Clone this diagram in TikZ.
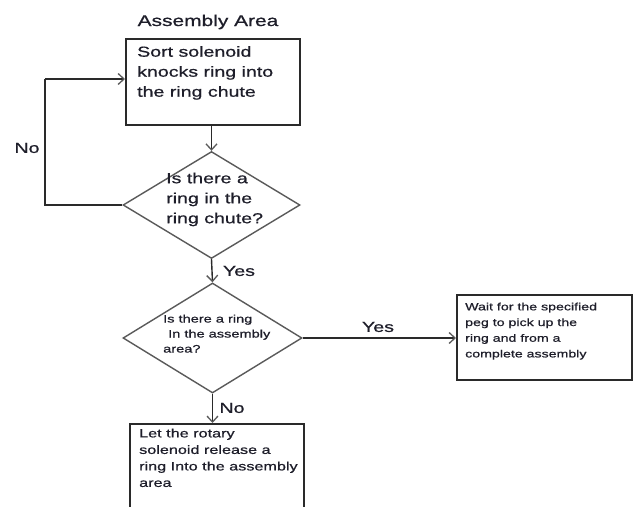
\documentclass[tikz,border=0pt]{standalone}
\usepackage{fontspec}
\setmainfont{Liberation Sans}[FakeStretch=1.35,FakeBold=0.7]
\usetikzlibrary{shapes.geometric,arrows.meta}
\definecolor{ink}{HTML}{1E1E2A}
\definecolor{edge}{HTML}{2A2A2A}
\definecolor{dedge}{HTML}{5A5A5A}
\tikzset{
  stepbox/.style={draw=edge, line width=2pt, rectangle, inner sep=0pt},
  decision/.style={draw=dedge, line width=1.4pt, diamond, inner sep=0pt},
  boxtext/.style={anchor=north west, inner sep=0pt, align=left, text=ink},
  lbl/.style={inner sep=0pt, text=ink, font=\fontsize{14.5}{16}\selectfont},
  flow/.style={draw=edge, line width=1.4pt,
    -{Straight Barb[length=6pt,width=11pt,line width=1.3pt,color=dedge]}},
  plain/.style={draw=edge, line width=1.4pt}
}
\begin{document}
\begin{tikzpicture}[x=1pt,y=-1pt]
  \useasboundingbox (0,0) rectangle (634,506);
  \clip (0,0) rectangle (634,506);
  \fill[white] (0,0) rectangle (634,506);

  % heading
  \node[lbl, font=\fontsize{15.5}{17}\selectfont] (title) at (208,22) {Assembly Area};

  % process boxes
  \node[stepbox, minimum width=174pt, minimum height=86pt] (box1) at (213,82) {};
  \node[boxtext, font=\fontsize{14.5}{20}\selectfont] (t1) at (137,46)
    {Sort solenoid\\knocks ring into\\the ring chute};

  \node[stepbox, minimum width=175pt, minimum height=85pt] (box3) at (544.5,337.5) {};
  \node[boxtext, font=\fontsize{10.5}{15.7}\selectfont] (t3) at (465,302.5)
    {Wait for the specified\\peg to pick up the\\ring and from a\\complete assembly};

  \node[stepbox, minimum width=174pt, minimum height=120pt] (box2) at (217,484) {};
  \node[boxtext, font=\fontsize{12}{16.5}\selectfont] (t2) at (139,428.5)
    {Let the rotary\\solenoid release a\\ring Into the assembly\\area};

  % decisions
  \node[decision, minimum width=177pt, minimum height=107pt] (d1) at (211.5,205) {};
  \node[boxtext, font=\fontsize{14.5}{20}\selectfont] (td1) at (166,172.5)
    {Is there a\\ring in the\\ring chute?};

  \node[decision, minimum width=179pt, minimum height=110pt] (d2) at (212.5,338) {};
  \node[boxtext, font=\fontsize{10.8}{15}\selectfont] (td2) at (163,314.5)
    {Is there a ring\\\hspace*{5pt}In the assembly\\area?};

  % connectors
  \coordinate (lp) at (45,79);
  \path[flow] (box1.south -| d1.north) -- (d1.north);
  \path[plain] (d1.west) -| (lp);
  \path[flow] (lp) -- (lp -| box1.west);
  \path[flow] (d1.south) -- (d2.north);
  \path[flow] (d2.east) -- (d2.east -| box3.west);
  \path[flow] (d2.south) -- (d2.south |- box2.north);

  % branch labels
  \node[lbl] (no1) at (27,148) {No};
  \node[lbl] (yes1) at (239,271) {Yes};
  \node[lbl] (yes2) at (378,327) {Yes};
  \node[lbl] (no2) at (232,408) {No};
\end{tikzpicture}
\end{document}
